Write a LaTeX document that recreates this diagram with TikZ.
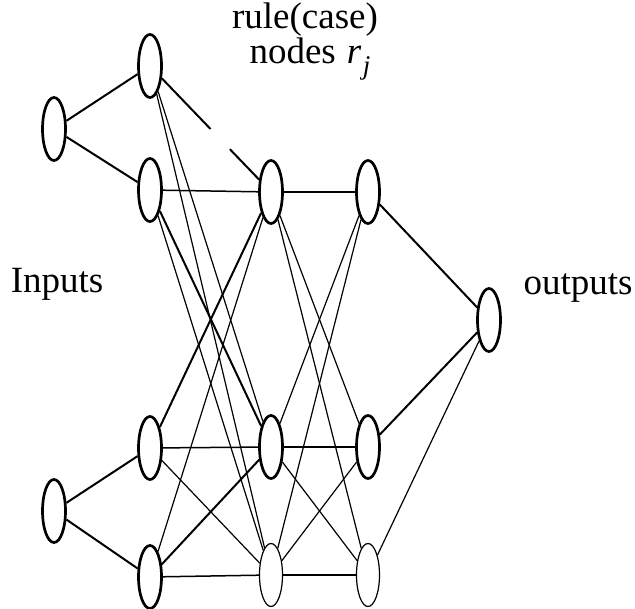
\documentclass[tikz,border=0pt]{standalone}
\usepackage{fontspec}
\setmainfont{Liberation Serif}
\usetikzlibrary{shapes.geometric,calc}
\begin{document}
\begin{tikzpicture}[x=1pt,y=-1pt,
  unit/.style={ellipse,draw,line width=2.7pt,minimum width=23pt,minimum height=63pt,inner sep=0pt},
  newunit/.style={unit,line width=1.2pt},
  strong/.style={line width=2pt},
  mid/.style={line width=1.5pt},
  weak/.style={line width=1.2pt},
  lbl/.style={font=\fontsize{37}{40}\selectfont,inner sep=0pt,anchor=base}]
\useasboundingbox (0,0) rectangle (635,609);

% input units
\node[unit] (I1) at (54,129) {};
\node[unit] (I2) at (54,511) {};
% membership units
\node[unit] (H1) at (150,66) {};
\node[unit] (H2) at (150,190) {};
\node[unit] (H3) at (150,448) {};
\node[unit] (H4) at (150,577) {};
% rule (case) units
\node[unit] (R1) at (271,192) {};
\node[unit] (R3) at (271,447) {};
\node[newunit] (R5) at (271,575) {};
% second rule layer
\node[unit] (R2) at (368,192) {};
\node[unit] (R4) at (368,447) {};
\node[newunit] (R6) at (368,575) {};
% output unit
\node[unit] (O) at (489,320) {};

% labels
\node[lbl] (t1) at (305,29) {rule(case)};
\node[lbl] (t2) at (310,64) {nodes\hspace{0.3em}\textit{r}\hspace{0.04em}\raisebox{-0.28em}{\fontsize{27}{27}\selectfont\textit{j}}};
\node[lbl] (tin) at (57,293) {Inputs};
\node[lbl] (tout) at (578,295) {outputs};

% inputs to membership units
\draw[strong] (I1) -- (H1);
\draw[strong] (I1) -- (H2);
\draw[strong] (I2) -- (H3);
\draw[strong] (I2) -- (H4);

% membership units to rule units
\coordinate (g1) at ($(H1)!0.50!(R1)$);
\coordinate (g2) at ($(H1)!0.66!(R1)$);
\draw[strong] (H1) -- (g1);
\draw[strong] (g2) -- (R1);
\draw[weak] (H1) -- (R3);
\draw[weak] (H1) -- (R5);
\draw[mid] (H2) -- (R1);
\draw[strong] (H2) -- (R3);
\draw[weak] (H2) -- (R5);
\draw[strong] (H3) -- (R1);
\draw[mid] (H3) -- (R3);
\draw[weak] (H3) -- (R5);
\draw[weak] (H4) -- (R1);
\draw[strong] (H4) -- (R3);
\draw[mid] (H4) -- (R5);

% first rule layer to second rule layer
\draw[mid] (R1) -- (R2);
\draw[weak] (R1) -- (R4);
\draw[weak] (R1) -- (R6);
\draw[weak] (R3) -- (R2);
\draw[strong] (R3) -- (R4);
\draw[weak] (R3) -- (R6);
\draw[weak] (R5) -- (R2);
\draw[weak] (R5) -- (R4);
\draw[mid] (R5) -- (R6);

% second rule layer to output
\draw[strong] (R2) -- (O);
\draw[strong] (R4) -- (O);
\draw[weak] (R6) -- (O);
\end{tikzpicture}
\end{document}
